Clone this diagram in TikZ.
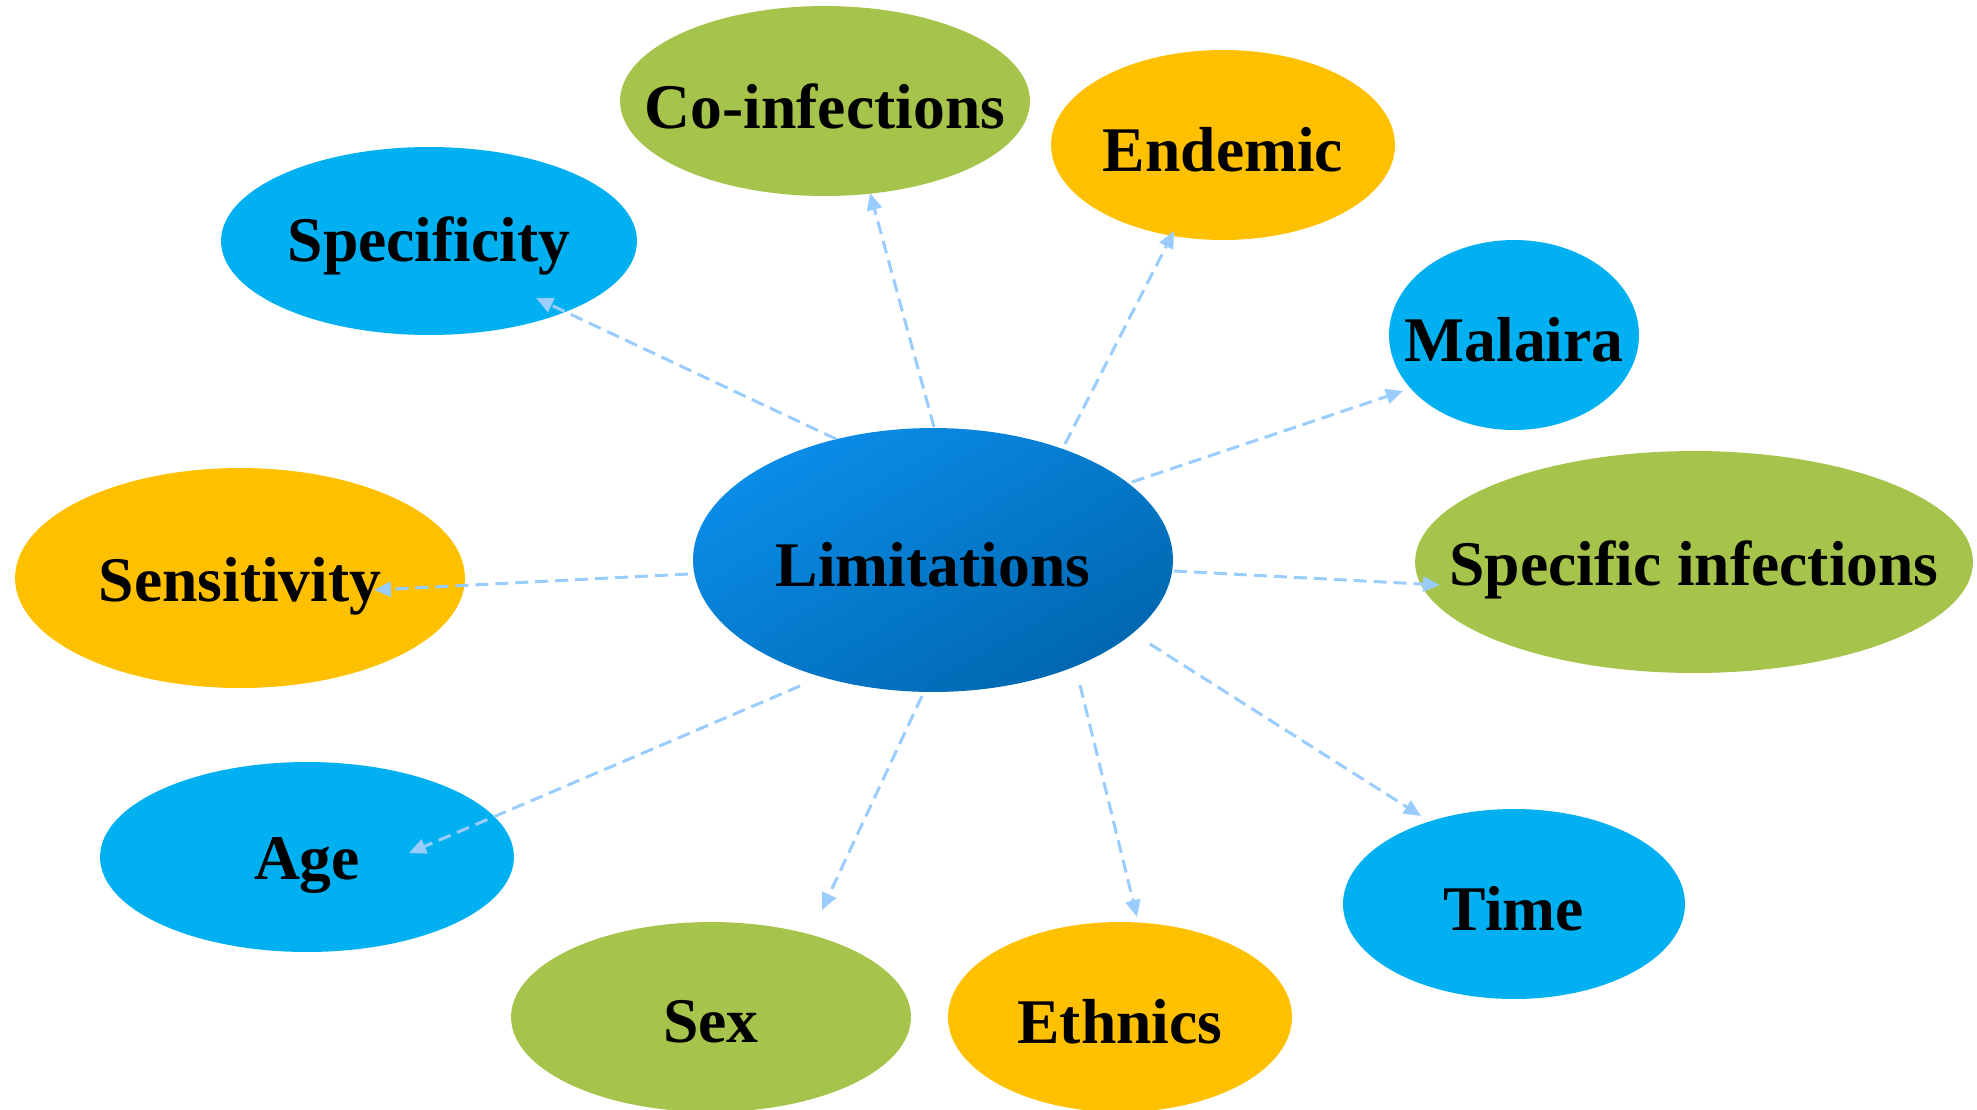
\documentclass[tikz,border=0pt]{standalone}
\usepackage{fontspec}
\setmainfont{Liberation Serif}
\usetikzlibrary{shapes.geometric,arrows.meta}

\definecolor{coreA}{HTML}{0A8DE8}
\definecolor{coreB}{HTML}{0067B0}
\definecolor{skyblue}{HTML}{00B0F0}
\definecolor{leaf}{HTML}{A6C34B}
\definecolor{amber}{HTML}{FFC000}
\definecolor{linkblue}{HTML}{99CCFF}

\begin{document}
\begin{tikzpicture}[x=0.02cm,y=-0.02cm,
  bubble/.style={ellipse, inner sep=0pt, draw=none},
  word/.style={font=\fontsize{36.2}{40}\selectfont\bfseries, text=black, inner sep=0pt, yshift=-0.1cm},
  link/.style={draw=linkblue, line width=0.06cm, dash pattern=on 0.26cm off 0.14cm,
    -{Triangle[length=0.34cm,width=0.3cm]}}]
\useasboundingbox (0,0) rectangle (1977,1109);

% central bubble
\node[bubble, minimum width=9.6cm, minimum height=5.28cm,
  top color=coreA, bottom color=coreB, shading angle=30,
  label={[word]center:Limitations}] (lim) at (933,560) {};

% surrounding bubbles
\node[bubble, fill=leaf,    minimum width=8.2cm,   minimum height=3.8cm,  label={[word]center:Co-infections}] (coinf) at (825,101) {};
\node[bubble, fill=amber,   minimum width=6.88cm,  minimum height=3.8cm,  label={[word]center:Endemic}] (endem) at (1223,145) {};
\node[bubble, fill=skyblue, minimum width=8.32cm,  minimum height=3.76cm, label={[word]center:Specificity}] (spec) at (429,241) {};
\node[bubble, fill=skyblue, minimum width=5.0cm,   minimum height=3.8cm,  label={[word]center:Malaira}] (mal) at (1514,335) {};
\node[bubble, fill=amber,   minimum width=9.0cm,   minimum height=4.4cm,  label={[word, yshift=-0.06cm]center:Sensitivity}] (sens) at (240,578) {};
\node[bubble, fill=leaf,    minimum width=11.16cm, minimum height=4.44cm, label={[word, yshift=-0.06cm]center:Specific infections}] (spinf) at (1694,562) {};
\node[bubble, fill=skyblue, minimum width=8.28cm,  minimum height=3.8cm,  label={[word, yshift=-0.08cm]center:Age}] (age) at (307,857) {};
\node[bubble, fill=leaf,    minimum width=8.0cm,   minimum height=3.8cm,  label={[word]center:Sex}] (sex) at (711,1017) {};
\node[bubble, fill=amber,   minimum width=6.88cm,  minimum height=3.8cm,  label={[word]center:Ethnics}] (eth) at (1120,1017) {};
\node[bubble, fill=skyblue, minimum width=6.84cm,  minimum height=3.8cm,  label={[word]center:Time}] (time) at (1514,904) {};

% connector ends
\coordinate (s-spec)  at (836,439);  \coordinate (e-spec)  at (536,298);
\coordinate (s-coinf) at (934,427);  \coordinate (e-coinf) at (870,193);
\coordinate (s-endem) at (1065,444); \coordinate (e-endem) at (1174,231);
\coordinate (s-mal)   at (1132,482); \coordinate (e-mal)   at (1403,391);
\coordinate (s-spinf) at (1174,571); \coordinate (e-spinf) at (1440,585);
\coordinate (s-time)  at (1150,644); \coordinate (e-time)  at (1421,816);
\coordinate (s-eth)   at (1080,685); \coordinate (e-eth)   at (1137,917);
\coordinate (s-sex)   at (922,696);  \coordinate (e-sex)   at (822,910);
\coordinate (s-age)   at (800,686);  \coordinate (e-age)   at (409,853);
\coordinate (s-sens)  at (688,574);  \coordinate (e-sens)  at (374,590);

% connectors
\foreach \t in {spec,coinf,endem,mal,spinf,time,eth,sex,age,sens}
  \draw[link] (s-\t) -- (e-\t);
\end{tikzpicture}
\end{document}
